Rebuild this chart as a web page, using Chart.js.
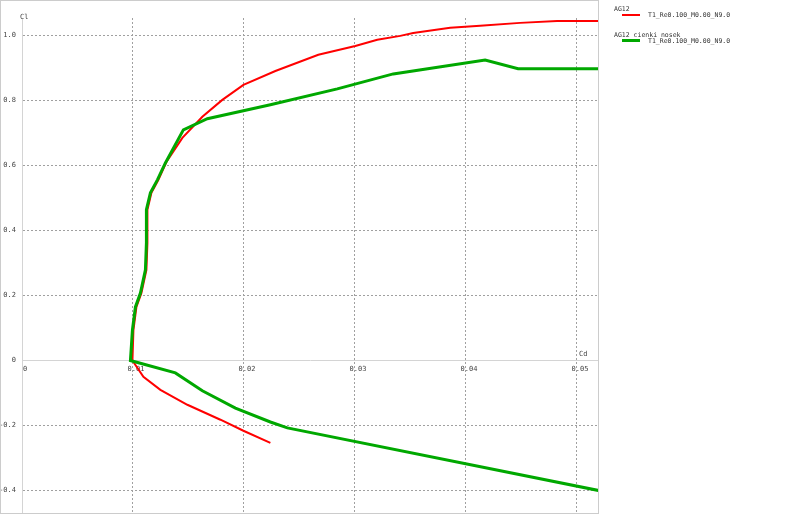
<!DOCTYPE html>
<html>
<head>
<meta charset="utf-8">
<script src="https://cdn.jsdelivr.net/npm/chart.js@4/dist/chart.umd.min.js"></script>
<style>
body { margin:0; background:#fff; font-family:"DejaVu Sans Mono", monospace; }
#wrap { position:relative; width:800px; height:515px; overflow:hidden; }
#c { position:absolute; left:0; top:0; }
#box { position:absolute; left:0; top:0; width:599px; height:514px; box-sizing:border-box; border:1px solid #cccccc; pointer-events:none; }
.t { position:absolute; white-space:nowrap; color:#444; font-size:7px; line-height:8px; }
.lg { position:absolute; white-space:nowrap; color:#333; font-size:6.5px; line-height:8px; }
.sw { position:absolute; width:18px; }
</style>
</head>
<body>
<div id="wrap">
  <canvas id="c" width="800" height="515"></canvas>
  <div id="box"></div>
  <div class="t" style="left:20px;top:13px;">Cl</div>
  <div class="t" style="left:579px;top:350px;">Cd</div>
  <div id="legend"></div>
</div>
<script>
// axis ticks
var xTicks = [0, 0.01, 0.02, 0.03, 0.04, 0.05];
var xTickLabels = ['0', '0.01', '0.02', '0.03', '0.04', '0.05'];
var yTicks = [-0.4, -0.2, 0, 0.2, 0.4, 0.6, 0.8, 1.0];
var yTickLabels = ['-0.4', '-0.2', '0', '0.2', '0.4', '0.6', '0.8', '1.0'];

// AG12 polar (Cd, Cl)
var cdAG12 = [0.02238, 0.01995, 0.01788, 0.0149, 0.01247, 0.01094, 0.00995,
  0.01004, 0.01031, 0.01076, 0.01121, 0.0113, 0.0113, 0.01166, 0.01229, 0.01301,
  0.01445, 0.01625, 0.01805, 0.01995, 0.02283, 0.0267, 0.03003, 0.03201, 0.03408,
  0.03525, 0.03858, 0.04128, 0.04488, 0.04821, 0.05208];
var clAG12 = [-0.253, -0.216, -0.182, -0.136, -0.09, -0.05, 0.0,
  0.094, 0.165, 0.208, 0.279, 0.362, 0.464, 0.516, 0.556, 0.611,
  0.685, 0.75, 0.802, 0.848, 0.891, 0.941, 0.968, 0.987, 0.999,
  1.008, 1.024, 1.03, 1.039, 1.045, 1.045];

// AG12 cienki nosek polar (Cd, Cl)
var cdNosek = [0.0520, 0.02391, 0.02238, 0.01923, 0.01625, 0.01382, 0.00977,
  0.00995, 0.01022, 0.01067, 0.01112, 0.01121, 0.01121, 0.01157, 0.0122, 0.01292,
  0.01454, 0.0167, 0.02238, 0.02841, 0.03345, 0.04173, 0.0447, 0.05208];
var clNosek = [-0.40, -0.207, -0.189, -0.146, -0.093, -0.038, 0.0,
  0.094, 0.165, 0.208, 0.279, 0.362, 0.464, 0.516, 0.556, 0.608,
  0.71, 0.744, 0.787, 0.836, 0.882, 0.925, 0.898, 0.898];

var seriesNames = ['AG12', 'AG12 cienki nosek'];
var seriesLabels = ['T1_Re0.100_M0.00_N9.0', 'T1_Re0.100_M0.00_N9.0'];
var seriesColors = ['#ff0000', '#00a800'];
var seriesWidths = [2, 3];

function pts(xs, ys) {
  return xs.map(function (x, i) { return { x: x, y: ys[i] }; });
}

// legend
var legend = document.getElementById('legend');
var rowTop = [5, 31];
for (var i = 0; i < seriesNames.length; i++) {
  var h = document.createElement('div');
  h.className = 'lg';
  h.style.left = '614px';
  h.style.top = rowTop[i] + 'px';
  h.textContent = seriesNames[i];
  legend.appendChild(h);
  var sw = document.createElement('div');
  sw.className = 'sw';
  sw.style.left = '622px';
  sw.style.top = (rowTop[i] + 9 - seriesWidths[i] / 2 + 0.5) + 'px';
  sw.style.height = seriesWidths[i] + 'px';
  sw.style.background = seriesColors[i];
  legend.appendChild(sw);
  var t = document.createElement('div');
  t.className = 'lg';
  t.style.left = '648px';
  t.style.top = (rowTop[i] + 6) + 'px';
  t.textContent = seriesLabels[i];
  legend.appendChild(t);
}

var gridColor = function (ctx) {
  return ctx.tick && ctx.tick.value === 0 ? 'rgba(0,0,0,0)' : '#a0a0a0';
};

var ctx = document.getElementById('c');
var chart = new Chart(ctx, {
  type: 'scatter',
  data: {
    datasets: [{
      label: seriesNames[0],
      data: pts(cdAG12, clAG12),
      borderColor: seriesColors[0],
      borderWidth: seriesWidths[0],
      showLine: true,
      pointRadius: 0,
      tension: 0,
      order: 1
    }, {
      label: seriesNames[1],
      data: pts(cdNosek, clNosek),
      borderColor: seriesColors[1],
      borderWidth: seriesWidths[1],
      showLine: true,
      pointRadius: 0,
      tension: 0,
      order: 0
    }]
  },
  options: {
    responsive: false,
    animation: false,
    layout: { padding: { left: 0, right: 202, top: 18, bottom: 2 } },
    plugins: { legend: { display: false }, tooltip: { enabled: false } },
    scales: {
      x: {
        type: 'linear',
        position: { y: 0 },
        min: 0,
        max: 0.0519,
        afterBuildTicks: function (s) { s.ticks = xTicks.map(function (v) { return { value: v }; }); },
        afterFit: function (s) { s.paddingLeft = 0; s.paddingRight = 0; },
        ticks: {
          padding: 4,
          labelOffset: 3,
          color: '#444',
          font: { family: 'DejaVu Sans Mono', size: 7 },
          maxRotation: 0,
          autoSkip: false,
          callback: function (v, i) { return xTickLabels[i]; }
        },
        grid: { color: gridColor, drawTicks: false, lineWidth: 1 },
        border: { color: '#d4d4d4', width: 1, dash: [2, 2] }
      },
      y: {
        type: 'linear',
        position: 'left',
        min: -0.469,
        max: 1.054,
        afterBuildTicks: function (s) { s.ticks = yTicks.map(function (v) { return { value: v }; }); },
        afterFit: function (s) { s.width = 22; s.paddingTop = 0; s.paddingBottom = 0; },
        ticks: {
          padding: 6,
          color: '#444',
          font: { family: 'DejaVu Sans Mono', size: 7 },
          autoSkip: false,
          callback: function (v, i) { return yTickLabels[i]; }
        },
        grid: { color: gridColor, drawTicks: false, lineWidth: 1 },
        border: { color: '#d4d4d4', width: 1, dash: [2, 2] }
      }
    }
  }
});
</script>
</body>
</html>
